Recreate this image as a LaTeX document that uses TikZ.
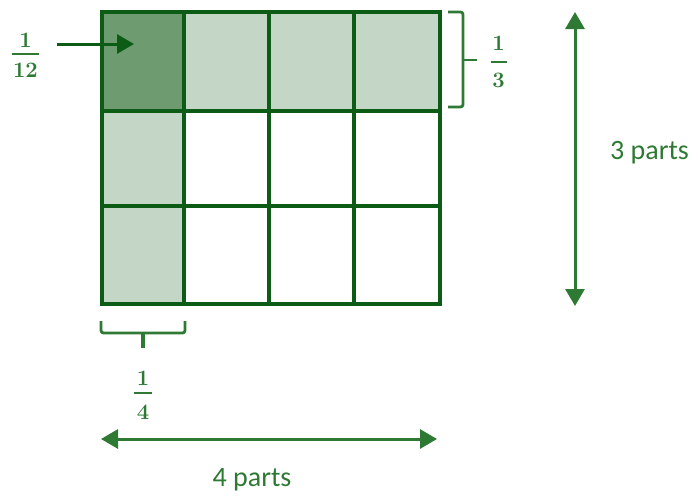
\documentclass[tikz,border=0pt]{standalone}
\usepackage{fontspec}
\newfontfamily\labfont{Carlito}
\usetikzlibrary{arrows.meta}
\definecolor{gridc}{RGB}{12,92,22}
\definecolor{darkfill}{RGB}{111,155,112}
\definecolor{lightfill}{RGB}{196,215,198}
\definecolor{arrc}{RGB}{46,122,52}
\definecolor{txtc}{RGB}{46,122,52}
\tikzset{
  gridline/.style={draw=gridc,line width=3.2pt},
  dimarrow/.style={draw=arrc,line width=3pt,{Triangle[length=17pt,width=19pt]}-{Triangle[length=17pt,width=19pt]}},
  ptrarrow/.style={draw=gridc,line width=3pt,-{Triangle[length=17pt,width=19pt]}},
  bracket/.style={draw=arrc,line width=2.8pt,rounded corners=2.5pt},
  digit/.style={text=txtc,inner sep=0pt,font=\bfseries\fontsize{22}{24}\selectfont},
  fracbar/.style={draw=txtc,line width=2.5pt},
  partlab/.style={text=txtc,inner sep=0pt,font=\labfont\fontsize{28}{32}\selectfont},
}
\begin{document}
\begin{tikzpicture}[x=1pt,y=-1pt]
\useasboundingbox[fill=white] (0,0) rectangle (699,498);
% cell fills
\fill[darkfill] (102,12) rectangle (184,111);
\fill[lightfill] (184,12) rectangle (440,111);
\fill[lightfill] (102,111) rectangle (184,304);
% grid
\foreach \yy in {12,111,206,304} \draw[gridline] (100.4,\yy) -- (441.6,\yy);
\foreach \xx in {102,184,269,354,440} \draw[gridline] (\xx,10.4) -- (\xx,305.6);
% 1/12 label and pointer
\node[digit] (n12) at (25.5,40) {1};
\coordinate (bar12l) at (12,54);
\coordinate (bar12r) at (39,54);
\draw[fracbar] (bar12l) -- (bar12r);
\node[digit] (d12) at (25.5,70) {12};
\coordinate (p12s) at (57,44);
\coordinate (p12e) at (134,44);
\draw[ptrarrow] (p12s) -- (p12e);
% 1/3 bracket
\coordinate (b3a) at (448,12);
\coordinate (b3b) at (463,12);
\coordinate (b3c) at (463,107);
\coordinate (b3d) at (448,107);
\coordinate (b3m) at (463,60);
\coordinate (b3t) at (477,60);
\draw[bracket] (b3a) -- (b3b) -- (b3c) -- (b3d);
\draw[bracket] (b3m) -- (b3t);
\node[digit] (n3) at (498.5,43) {1};
\coordinate (bar3l) at (490.5,62);
\coordinate (bar3r) at (506.5,62);
\draw[fracbar] (bar3l) -- (bar3r);
\node[digit] (d3) at (498.5,80) {3};
% 1/4 bracket
\coordinate (b4a) at (101,321);
\coordinate (b4b) at (101,333);
\coordinate (b4c) at (185,333);
\coordinate (b4d) at (185,321);
\coordinate (b4m) at (143,333);
\coordinate (b4t) at (143,348);
\draw[bracket] (b4a) -- (b4b) -- (b4c) -- (b4d);
\draw[bracket,line width=3.4pt] (b4m) -- (b4t);
\node[digit] (n4) at (143,378) {1};
\coordinate (bar4l) at (134,393);
\coordinate (bar4r) at (152,393);
\draw[fracbar] (bar4l) -- (bar4r);
\node[digit] (d4) at (143,412) {4};
% dimension arrows
\coordinate (vt) at (575,12);
\coordinate (vb) at (575,306);
\draw[dimarrow] (vt) -- (vb);
\node[partlab,anchor=west] (p3) at (610,153) {3 parts};
\coordinate (hl) at (101,439);
\coordinate (hr) at (437,439);
\draw[dimarrow] (hl) -- (hr);
\node[partlab] (p4) at (252,480) {4 parts};
\end{tikzpicture}
\end{document}
